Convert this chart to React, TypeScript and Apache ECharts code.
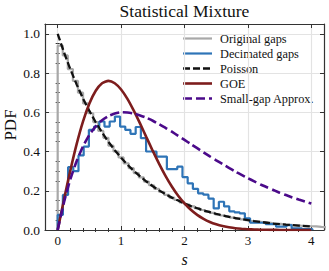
import React, { useEffect, useRef } from 'react';
import * as echarts from 'echarts';

const TITLE = 'Statistical Mixture';
const X_LABEL = 's';
const Y_LABEL = 'PDF';
const SERIES_NAMES = ['Original gaps', 'Decimated gaps', 'Poisson', 'GOE', 'Small-gap Approx.'];
const X_TICKS = [0, 1, 2, 3, 4];
const Y_TICKS = [0, 0.2, 0.4, 0.6, 0.8, 1.0];

// Histogram of original gaps (bin width 0.08, starting at 0)
const ORIGINAL_BIN_WIDTH = 0.08;
const originalHeights = [
  0.94, 0.89, 0.82, 0.76, 0.70, 0.645, 0.595, 0.55, 0.505, 0.47,
  0.43, 0.40, 0.37, 0.34, 0.315, 0.29, 0.268, 0.247, 0.228, 0.21,
  0.194, 0.179, 0.165, 0.153, 0.141, 0.13, 0.12, 0.111, 0.102, 0.094,
  0.087, 0.08, 0.074, 0.069, 0.063, 0.058, 0.054, 0.05, 0.046, 0.042,
  0.039, 0.036, 0.033, 0.031, 0.028, 0.026, 0.024, 0.022, 0.021, 0.019,
  0.018, 0.016, 0.015,
];

// Histogram of decimated gaps (bin width 0.082, starting at 0)
const DECIMATED_BIN_WIDTH = 0.082;
const decimatedHeights = [
  0.077, 0.179, 0.32, 0.30, 0.38, 0.425, 0.51, 0.527, 0.553, 0.527,
  0.553, 0.578, 0.527, 0.51, 0.49, 0.525, 0.468, 0.40, 0.40, 0.374,
  0.374, 0.31, 0.31, 0.323, 0.27, 0.238, 0.21, 0.187, 0.18, 0.16,
  0.11, 0.144, 0.12, 0.095, 0.09, 0.085, 0.06, 0.037, 0.037, 0.037,
  0.03, 0.03, 0.017, 0.017, 0.025, 0.008, 0.008, 0.004, 0.004,
];

// Theoretical curves sampled at these s values
const curveS = [
  0, 0.1, 0.2, 0.3, 0.4, 0.5, 0.6, 0.7, 0.8, 0.9,
  1.0, 1.1, 1.2, 1.3, 1.4, 1.5, 1.6, 1.7, 1.8, 1.9,
  2.0, 2.1, 2.2, 2.3, 2.4, 2.5, 2.6, 2.7, 2.8, 2.9,
  3.0, 3.1, 3.2, 3.3, 3.4, 3.5, 3.6, 3.7, 3.8, 3.9, 4.0,
];
const poissonPdf = [
  1.0, 0.905, 0.819, 0.741, 0.670, 0.607, 0.549, 0.497, 0.449, 0.407,
  0.368, 0.333, 0.301, 0.273, 0.247, 0.223, 0.202, 0.183, 0.165, 0.150,
  0.135, 0.122, 0.111, 0.100, 0.091, 0.082, 0.074, 0.067, 0.061, 0.055,
  0.050, 0.045, 0.041, 0.037, 0.033, 0.030, 0.027, 0.025, 0.022, 0.020, 0.018,
];
const goePdf = [
  0, 0.156, 0.304, 0.439, 0.554, 0.645, 0.710, 0.748, 0.760, 0.748,
  0.716, 0.668, 0.608, 0.542, 0.472, 0.403, 0.337, 0.276, 0.222, 0.175,
  0.136, 0.103, 0.077, 0.057, 0.041, 0.029, 0.020, 0.014, 0.009, 0.006,
  0.004, 0.0025, 0.0016, 0.001, 0.0006, 0.0003, 0.0002, 0.0001, 0, 0, 0,
];
const smallGapPdf = [
  0, 0.142, 0.259, 0.352, 0.427, 0.485, 0.528, 0.560, 0.581, 0.594,
  0.600, 0.599, 0.594, 0.584, 0.572, 0.557, 0.539, 0.521, 0.501, 0.480,
  0.459, 0.438, 0.417, 0.396, 0.375, 0.355, 0.336, 0.317, 0.298, 0.281,
  0.264, 0.248, 0.232, 0.218, 0.204, 0.190, 0.178, 0.166, 0.155, 0.145, 0.135,
];

const COLORS = ['#a8a8a8', '#2e74b7', '#111111', '#7d1d1d', '#4b0a8a'];
const WIDTHS = [2.2, 2.2, 2.3, 2.6, 2.6];
const DASHES: (number[] | null)[] = [null, null, [7, 3], null, [9, 4]];
const FONT = 'Liberation Serif';
const FRAME = '#333333';

function stepPoints(width: number, heights: number[]) {
  const pts: number[][] = [[0, 0]];
  heights.forEach((h, i) => pts.push([+(i * width).toFixed(4), h]));
  const end = +(heights.length * width).toFixed(4);
  pts.push([end, heights[heights.length - 1]]);
  pts.push([end, 0]);
  return pts;
}

function pairs(xs: number[], ys: number[]) {
  return xs.map((x, i) => [x, ys[i]]);
}

export default function App() {
  const ref = useRef<HTMLDivElement>(null);
  useEffect(() => {
    document.body.style.margin = '0';
    if (!ref.current) return;
    const chart = echarts.init(ref.current, null, { renderer: 'svg' });

    const minorX: number[] = [];
    for (let i = 1; i < 21; i++) if (i % 5 !== 0) minorX.push(+(i * 0.2).toFixed(1));
    const minorY: number[] = [];
    for (let i = 1; i < 21; i++) if (i % 4 !== 0) minorY.push(+(i * 0.05).toFixed(2));

    const xBase = { type: 'value', min: -0.2, max: 4.2 };
    const yBase = { type: 'value', min: 0, max: 1.05 };
    const lineS = { color: FRAME, width: 1.2 };
    const tickS = { color: FRAME, width: 1 };

    const xAxis = [
      {
        ...xBase, position: 'bottom',
        axisLine: { show: true, onZero: false, lineStyle: lineS },
        axisTick: { show: true, inside: true, length: 4, customValues: X_TICKS, lineStyle: tickS },
        axisLabel: { customValues: X_TICKS, fontFamily: FONT, fontSize: 13, color: '#111', margin: 4 },
        splitLine: { show: true, lineStyle: { color: '#e3e3e3', width: 1.2 } },
      },
      {
        ...xBase, position: 'bottom',
        axisLine: { show: false },
        axisTick: { show: true, inside: true, length: 2, customValues: minorX, lineStyle: tickS },
        axisLabel: { show: false }, splitLine: { show: false },
      },
      {
        ...xBase, position: 'top',
        axisLine: { show: true, onZero: false, lineStyle: lineS },
        axisTick: { show: true, inside: true, length: 4, customValues: X_TICKS, lineStyle: tickS },
        axisLabel: { show: false }, splitLine: { show: false },
      },
      {
        ...xBase, position: 'top',
        axisLine: { show: false },
        axisTick: { show: true, inside: true, length: 2, customValues: minorX, lineStyle: tickS },
        axisLabel: { show: false }, splitLine: { show: false },
      },
    ];
    const yAxis = [
      {
        ...yBase, position: 'left',
        axisLine: { show: true, onZero: false, lineStyle: lineS },
        axisTick: { show: true, inside: true, length: 4, customValues: Y_TICKS, lineStyle: tickS },
        axisLabel: {
          customValues: Y_TICKS, fontFamily: FONT, fontSize: 13.5, color: '#111', margin: 5,
          formatter: (v: number) => v.toFixed(1),
        },
        splitLine: { show: true, lineStyle: { color: '#e3e3e3', width: 1.2 } },
      },
      {
        ...yBase, position: 'left',
        axisLine: { show: false },
        axisTick: { show: true, inside: true, length: 2, customValues: minorY, lineStyle: tickS },
        axisLabel: { show: false }, splitLine: { show: false },
      },
      {
        ...yBase, position: 'right',
        axisLine: { show: true, onZero: false, lineStyle: lineS },
        axisTick: { show: true, inside: true, length: 4, customValues: Y_TICKS, lineStyle: tickS },
        axisLabel: { show: false }, splitLine: { show: false },
      },
      {
        ...yBase, position: 'right',
        axisLine: { show: false },
        axisTick: { show: true, inside: true, length: 2, customValues: minorY, lineStyle: tickS },
        axisLabel: { show: false }, splitLine: { show: false },
      },
    ];

    const common = {
      type: 'line', xAxisIndex: 0, yAxisIndex: 0, showSymbol: false, symbol: 'none',
      clip: true, silent: true,
    };

    // Legend drawn as graphic elements (line samples + texts)
    const LEG_X = 183, LEG_Y0 = 38.5, LEG_DY = 15, LEG_LEN = 29;
    const legendGraphics: any[] = [];
    SERIES_NAMES.forEach((name, i) => {
      const y = LEG_Y0 + i * LEG_DY;
      legendGraphics.push({
        type: 'line', silent: true,
        shape: { x1: LEG_X, y1: y, x2: LEG_X + LEG_LEN, y2: y },
        style: { stroke: COLORS[i], lineWidth: WIDTHS[i], lineDash: DASHES[i] || null },
      });
      legendGraphics.push({
        type: 'text', x: LEG_X + LEG_LEN + 8, y, silent: true,
        style: {
          text: name, fontFamily: FONT, fontSize: 12.3, fill: '#111',
          align: 'left', verticalAlign: 'middle',
        },
      });
    });

    chart.setOption({
      animation: false,
      grid: { left: 45, right: 5, top: 24, bottom: 41, containLabel: false, outerBoundsMode: 'none' },
      xAxis, yAxis,
      graphic: [
        {
          type: 'text', x: 184.5, y: 11,
          style: {
            text: TITLE, fontFamily: FONT, fontSize: 17.5, fill: '#111',
            align: 'center', verticalAlign: 'middle',
          },
        },
        {
          type: 'text', x: 184.5, y: 259,
          style: {
            text: X_LABEL, fontFamily: FONT, fontSize: 16, fontStyle: 'italic', fill: '#111',
            align: 'center', verticalAlign: 'middle',
          },
        },
        {
          type: 'text', x: 10, y: 125, rotation: Math.PI / 2,
          style: {
            text: Y_LABEL, fontFamily: FONT, fontSize: 17, fill: '#111',
            align: 'center', verticalAlign: 'middle',
          },
        },
        ...legendGraphics,
      ],
      series: [
        {
          ...common, name: SERIES_NAMES[0], step: 'end',
          data: stepPoints(ORIGINAL_BIN_WIDTH, originalHeights),
          lineStyle: { color: COLORS[0], width: WIDTHS[0] }, itemStyle: { color: COLORS[0] },
        },
        {
          ...common, name: SERIES_NAMES[1], step: 'end',
          data: stepPoints(DECIMATED_BIN_WIDTH, decimatedHeights),
          lineStyle: { color: COLORS[1], width: WIDTHS[1] }, itemStyle: { color: COLORS[1] },
        },
        {
          ...common, name: SERIES_NAMES[2],
          data: pairs(curveS, poissonPdf),
          lineStyle: { color: COLORS[2], width: WIDTHS[2], type: DASHES[2] }, itemStyle: { color: COLORS[2] },
        },
        {
          ...common, name: SERIES_NAMES[3], smooth: 0.2,
          data: pairs(curveS, goePdf),
          lineStyle: { color: COLORS[3], width: WIDTHS[3] }, itemStyle: { color: COLORS[3] },
        },
        {
          ...common, name: SERIES_NAMES[4], smooth: 0.2,
          data: pairs(curveS, smallGapPdf),
          lineStyle: { color: COLORS[4], width: WIDTHS[4], type: DASHES[4] }, itemStyle: { color: COLORS[4] },
        },
      ],
    });
    return () => chart.dispose();
  }, []);
  return <div ref={ref} style={{ width: 329, height: 271 }} />;
}
